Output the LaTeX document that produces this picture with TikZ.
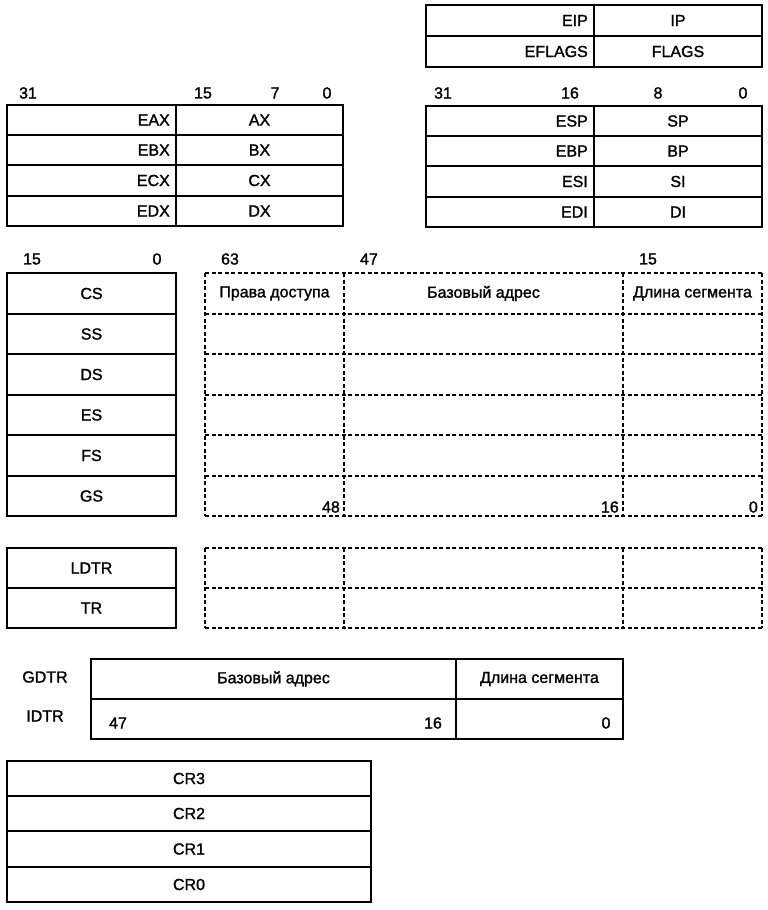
\documentclass[tikz,border=0pt]{standalone}
\usepackage{fontspec}
\setmainfont[FakeBold=1.4]{Liberation Sans}
\begin{document}
\begin{tikzpicture}[x=1pt,y=-1pt,
  solidcell/.style={draw, line width=1.6pt, rectangle, inner sep=0pt, outer sep=0pt, anchor=north west},
  dashcell/.style={rectangle, inner sep=0pt, outer sep=0pt, anchor=north west},
  dashline/.style={line width=1.3pt, dash pattern=on 4pt off 2.5pt},
  txt/.style={font=\fontsize{16}{18}\selectfont, inner sep=0pt},
  rtxt/.style={txt, anchor=east},
  bit/.style={txt}]
\useasboundingbox (0,0) rectangle (768,910);
\newcommand\cellbox[6]{\node[#6, minimum width={(#4-#2)*1pt}, minimum height={(#5-#3)*1pt}] (#1) at (#2,#3) {};}

% EIP / EFLAGS
\cellbox{eipL}{426}{5}{594}{36}{solidcell}
\cellbox{eipR}{594}{5}{762}{36}{solidcell}
\cellbox{eflL}{426}{36}{594}{67}{solidcell}
\cellbox{eflR}{594}{36}{762}{67}{solidcell}
\node[rtxt] at ([xshift=-6pt]eipL.east) {EIP};
\node[txt] at (eipR) {IP};
\node[rtxt] at ([xshift=-6pt]eflL.east) {EFLAGS};
\node[txt] at (eflR) {FLAGS};

% general registers left
\node[bit] (b31a) at (28,93) {31};
\node[bit] (b15a) at (203,93) {15};
\node[bit] (b7a) at (275,93) {7};
\node[bit] (b0a) at (327,93) {0};
\cellbox{eaxL}{7}{105}{176}{135}{solidcell}
\cellbox{eaxR}{176}{105}{343}{135}{solidcell}
\cellbox{ebxL}{7}{135}{176}{165}{solidcell}
\cellbox{ebxR}{176}{135}{343}{165}{solidcell}
\cellbox{ecxL}{7}{165}{176}{196}{solidcell}
\cellbox{ecxR}{176}{165}{343}{196}{solidcell}
\cellbox{edxL}{7}{196}{176}{226}{solidcell}
\cellbox{edxR}{176}{196}{343}{226}{solidcell}
\node[rtxt] at ([xshift=-6pt]eaxL.east) {EAX};
\node[txt] at (eaxR) {AX};
\node[rtxt] at ([xshift=-6pt]ebxL.east) {EBX};
\node[txt] at (ebxR) {BX};
\node[rtxt] at ([xshift=-6pt]ecxL.east) {ECX};
\node[txt] at (ecxR) {CX};
\node[rtxt] at ([xshift=-6pt]edxL.east) {EDX};
\node[txt] at (edxR) {DX};

% general registers right
\node[bit] (b31b) at (443,93) {31};
\node[bit] (b16b) at (570,93) {16};
\node[bit] (b8b) at (658,93) {8};
\node[bit] (b0b) at (743,93) {0};
\cellbox{espL}{426}{106}{594}{136}{solidcell}
\cellbox{espR}{594}{106}{762}{136}{solidcell}
\cellbox{ebpL}{426}{136}{594}{166}{solidcell}
\cellbox{ebpR}{594}{136}{762}{166}{solidcell}
\cellbox{esiL}{426}{166}{594}{197}{solidcell}
\cellbox{esiR}{594}{166}{762}{197}{solidcell}
\cellbox{ediL}{426}{197}{594}{227}{solidcell}
\cellbox{ediR}{594}{197}{762}{227}{solidcell}
\node[rtxt] at ([xshift=-6pt]espL.east) {ESP};
\node[txt] at (espR) {SP};
\node[rtxt] at ([xshift=-6pt]ebpL.east) {EBP};
\node[txt] at (ebpR) {BP};
\node[rtxt] at ([xshift=-6pt]esiL.east) {ESI};
\node[txt] at (esiR) {SI};
\node[rtxt] at ([xshift=-6pt]ediL.east) {EDI};
\node[txt] at (ediR) {DI};

% segment registers
\node[bit] (s15) at (32,259) {15};
\node[bit] (s0) at (157,259) {0};
\node[bit] (d63) at (230,259) {63};
\node[bit] (d47) at (369,259) {47};
\node[bit] (d15) at (648,259) {15};
\foreach \n/\t/\ya/\yb in {cs/CS/273/314,ss/SS/314/354,ds/DS/354/395,es/ES/395/435,fs/FS/435/476,gs/GS/476/516}{
  \cellbox{\n}{7}{\ya}{176}{\yb}{solidcell}
  \node[txt] at (\n) {\t};
  \cellbox{\n A}{205}{\ya}{344}{\yb}{dashcell}
  \cellbox{\n B}{344}{\ya}{623}{\yb}{dashcell}
  \cellbox{\n C}{623}{\ya}{762}{\yb}{dashcell}
}
% dashed descriptor-cache grid
\foreach \y in {273,314,354,395,435,476,516}
  \draw[dashline] (205,\y) -- (762,\y);
\foreach \x in {205,344,623,762}
  \draw[dashline] (\x,273) -- (\x,516);
\node[txt] at (csA) {Права доступа};
\node[txt] at (csB) {Базовый адрес};
\node[txt] at (csC) {Длина сегмента};
\node[rtxt] at ([xshift=-4pt,yshift=-11pt]gsA.east) {48};
\node[rtxt] at ([xshift=-4pt,yshift=-11pt]gsB.east) {16};
\node[rtxt] at ([xshift=-4pt,yshift=-11pt]gsC.east) {0};

% LDTR / TR
\cellbox{ldtr}{7}{548}{176}{588}{solidcell}
\cellbox{tr}{7}{588}{176}{628}{solidcell}
\node[txt] at (ldtr) {LDTR};
\node[txt] at (tr) {TR};
\cellbox{ldA}{205}{548}{344}{588}{dashcell}
\cellbox{ldB}{344}{548}{623}{588}{dashcell}
\cellbox{ldC}{623}{548}{762}{588}{dashcell}
\cellbox{trA}{205}{588}{344}{628}{dashcell}
\cellbox{trB}{344}{588}{623}{628}{dashcell}
\cellbox{trC}{623}{588}{762}{628}{dashcell}
\foreach \y in {548,588,628}
  \draw[dashline] (205,\y) -- (762,\y);
\foreach \x in {205,344,623,762}
  \draw[dashline] (\x,548) -- (\x,628);

% GDTR / IDTR
\cellbox{gA}{91}{659}{456}{699}{solidcell}
\cellbox{gB}{456}{659}{623}{699}{solidcell}
\cellbox{iA}{91}{699}{456}{739}{solidcell}
\cellbox{iB}{456}{699}{623}{739}{solidcell}
\node[txt] (gdtr) at (45,677) {GDTR};
\node[txt] (idtr) at (45,716) {IDTR};
\node[txt] at (gA) {Базовый адрес};
\node[txt] at (gB) {Длина сегмента};
\node[txt] (g47) at (118,723) {47};
\node[txt] (g16) at (433,723) {16};
\node[txt] (g0) at (606,723) {0};

% control registers
\foreach \n/\t/\ya/\yb in {cr3/CR3/761/796,cr2/CR2/796/831,cr1/CR1/831/867,cr0/CR0/867/902}{
  \cellbox{\n}{7}{\ya}{371}{\yb}{solidcell}
  \node[txt] at (\n) {\t};
}
\end{tikzpicture}
\end{document}
